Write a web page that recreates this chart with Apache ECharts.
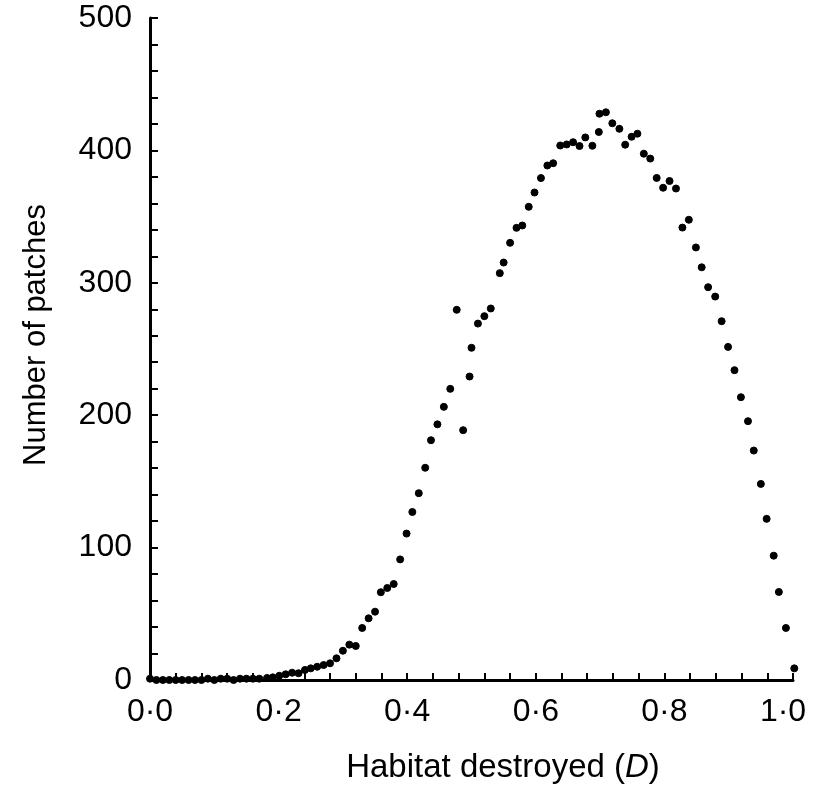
<!DOCTYPE html>
<html>
<head>
<meta charset="utf-8">
<script src="https://cdn.jsdelivr.net/npm/echarts@6/dist/echarts.min.js"></script>
<style>html,body{margin:0;padding:0;background:#fff;}#c{width:813px;height:791px;}</style>
</head>
<body>
<div id="c"></div>
<script>
// Habitat destroyed (D)
var habitatDestroyed = [
  0.00, 0.01, 0.02, 0.03, 0.04, 0.05, 0.06, 0.07, 0.08, 0.09,
  0.10, 0.11, 0.12, 0.13, 0.14, 0.15, 0.16, 0.17,
  0.182, 0.191, 0.201, 0.211, 0.221, 0.231, 0.241, 0.250, 0.260, 0.270,
  0.280, 0.290, 0.300, 0.310, 0.320, 0.330, 0.340, 0.350, 0.359, 0.369,
  0.379, 0.389, 0.399, 0.408, 0.418, 0.428, 0.437, 0.447, 0.457, 0.467,
  0.477, 0.487, 0.497, 0.500, 0.510, 0.520, 0.530, 0.544, 0.550, 0.560,
  0.570, 0.579, 0.589, 0.598, 0.608, 0.618, 0.627, 0.638, 0.648, 0.658,
  0.668, 0.677, 0.688, 0.698, 0.699, 0.709, 0.719, 0.730, 0.739, 0.749,
  0.758, 0.768, 0.778, 0.788, 0.798, 0.808, 0.818, 0.828, 0.838, 0.849,
  0.858, 0.868, 0.879, 0.889, 0.899, 0.909, 0.919, 0.930, 0.939, 0.950,
  0.959, 0.970, 0.978, 0.989, 1.002
];
// Number of patches
var numberOfPatches = [
  1, 0, 0, 0, 0, 0, 0, 0, 0, 1,
  0, 1, 1, 0, 1, 1, 1, 1,
  1.5, 2, 3.2, 4.3, 5.5, 5.1, 7.6, 8.8, 10, 11.3,
  12.6, 16.4, 22.1, 26.7, 25.7, 39.3, 46.6, 51.6, 66.3, 69.5,
  72.5, 91.1, 110.6, 126.9, 141.1, 160.3, 181.1, 193.1, 206.3, 219.9,
  279.6, 188.7, 229.2, 250.9, 269.2, 274.8, 280.6, 307.3, 315.3, 330.2,
  341.5, 343.3, 357.4, 368.2, 379.1, 388.6, 390.3, 403.7, 404.5, 406.2,
  403.3, 409.8, 403.5, 413.9, 427.7, 428.8, 420.5, 416.3, 404.3, 410.3,
  412.6, 397.5, 393.8, 379.2, 371.8, 376.9, 371.2, 341.7, 347.6, 326.7,
  311.7, 296.7, 289.6, 271.0, 251.6, 234.0, 213.6, 195.5, 173.3, 148.1,
  121.7, 93.9, 66.5, 39.3, 8.8
];
var xTickLabels = ['0·0', '0·2', '0·4', '0·6', '0·8', '1·0'];
var yTickLabels = ['0', '100', '200', '300', '400', '500'];

var points = habitatDestroyed.map(function (d, i) { return [d, numberOfPatches[i]]; });
var font = '"Liberation Sans", Arial, Helvetica, sans-serif';

var chart = echarts.init(document.getElementById('c'), null, {renderer: 'canvas'});
chart.setOption({
  animation: false,
  backgroundColor: '#ffffff',
  grid: {left: 150, right: 20, top: 18, bottom: 111, containLabel: false, outerBoundsMode: 'none'},
  xAxis: {
    type: 'value', min: 0, max: 1, interval: 0.2,
    name: 'Habitat destroyed ({i|D})', nameLocation: 'middle', nameGap: 71,
    nameTextStyle: {fontFamily: font, fontSize: 33, color: '#000', padding: [0, 0, 0, 63],
      rich: {i: {fontFamily: font, fontSize: 33, color: '#000', fontStyle: 'italic'}}},
    axisLine: {show: true, onZero: false, lineStyle: {color: '#000', width: 3}},
    axisTick: {show: true, inside: true, length: 7, lineStyle: {color: '#000', width: 2}},
    minorTick: {show: true, splitNumber: 5, length: 7, lineStyle: {color: '#000', width: 2}},
    splitLine: {show: false},
    axisLabel: {fontFamily: font, fontSize: 32, color: '#000', margin: 16,
      rich: {last: {fontFamily: font, fontSize: 32, color: '#000', padding: [0, 20, 0, 0]}},
      formatter: function (v) {
        var k = Math.round(v / 0.2);
        return k === xTickLabels.length - 1 ? '{last|' + xTickLabels[k] + '}' : xTickLabels[k];
      }}
  },
  yAxis: {
    type: 'value', min: 0, max: 500, interval: 100,
    name: 'Number of patches', nameLocation: 'middle', nameGap: 98, nameRotate: 90,
    nameTextStyle: {fontFamily: font, fontSize: 31, color: '#000', padding: [0, 0, 0, 28]},
    axisLine: {show: true, onZero: false, lineStyle: {color: '#000', width: 3}},
    axisTick: {show: true, inside: true, length: 8, lineStyle: {color: '#000', width: 2}},
    minorTick: {show: true, splitNumber: 5, length: 8, lineStyle: {color: '#000', width: 2}},
    splitLine: {show: false},
    axisLabel: {fontFamily: font, fontSize: 32, color: '#000', margin: 18,
      formatter: function (v) { return yTickLabels[Math.round(v / 100)]; }}
  },
  series: [{
    type: 'scatter',
    data: points,
    symbol: 'circle',
    symbolSize: 7,
    itemStyle: {color: '#000', borderColor: '#000', borderWidth: 1, opacity: 1},
    clip: false
  }]
});
</script>
</body>
</html>
